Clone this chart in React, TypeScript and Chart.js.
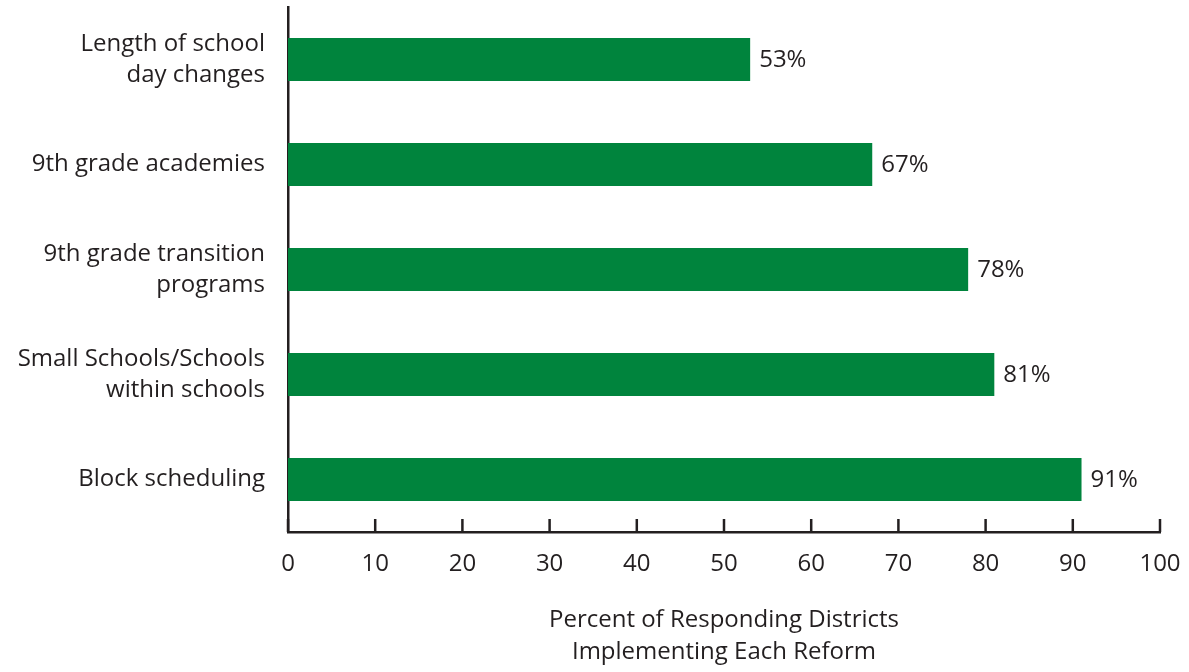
import React, { useEffect, useRef } from "react";
import { Chart, registerables } from "chart.js";

Chart.register(...registerables);

const categories: (string | string[])[] = [
  ["Length of school", "day changes"],
  "9th grade academies",
  ["9th grade transition", "programs"],
  ["Small Schools/Schools", "within schools"],
  "Block scheduling",
];
const values: number[] = [53, 67, 78, 81, 91];
const xTicks: number[] = [0, 10, 20, 30, 40, 50, 60, 70, 80, 90, 100];
const axisTitle: string[] = ["Percent of Responding Districts", "Implementing Each Reform"];

const GREEN = "#00843D";
const INK = "#231f20";
const FONT = "'Open Sans', 'Noto Sans', sans-serif";
const FS = 24;

export default function App() {
  const ref = useRef<HTMLCanvasElement | null>(null);

  useEffect(() => {
    document.body.style.margin = "0";
    const canvas = ref.current;
    if (!canvas) return;

    const overlay = {
      id: "overlay",
      afterDraw(chart: any) {
        const ctx = chart.ctx;
        const xs = chart.scales.x;
        const ys = chart.scales.y;
        const area = chart.chartArea;
        ctx.save();
        ctx.strokeStyle = INK;
        ctx.lineWidth = 2.5;
        xTicks.forEach((v) => {
          const px = xs.getPixelForValue(v);
          ctx.beginPath();
          ctx.moveTo(px, area.bottom);
          ctx.lineTo(px, area.bottom - 13);
          ctx.stroke();
        });
        ctx.fillStyle = INK;
        ctx.font = `${FS}px ${FONT}`;
        ctx.textAlign = "left";
        ctx.textBaseline = "middle";
        values.forEach((v, i) => {
          const px = xs.getPixelForValue(v);
          const py = ys.getPixelForValue(i);
          ctx.fillText(`${v}%`, px + 9, py + 1);
        });
        ctx.textAlign = "center";
        const cx = (area.left + area.right) / 2;
        axisTitle.forEach((t, i) => {
          ctx.fillText(t, cx, 620 + i * 32);
        });
        ctx.restore();
      },
    };

    const chart = new Chart(canvas, {
      type: "bar",
      data: {
        labels: categories,
        datasets: [
          {
            data: values,
            backgroundColor: GREEN,
            borderWidth: 0,
            barPercentage: 0.41,
            categoryPercentage: 1,
          },
        ],
      },
      options: {
        indexAxis: "y",
        responsive: false,
        animation: false,
        maintainAspectRatio: false,
        layout: { padding: { top: 7, right: 29, bottom: 0, left: 0 } },
        plugins: {
          legend: { display: false },
          tooltip: { enabled: false },
          title: { display: false },
        },
        scales: {
          x: {
            min: 0,
            max: 100,
            afterFit: (s: any) => {
              s.height = 140;
              s.paddingLeft = 0;
              s.paddingRight = 0;
            },
            grid: { display: false, drawTicks: false },
            border: { display: true, color: INK, width: 2.5 },
            ticks: {
              stepSize: 10,
              padding: 18,
              color: INK,
              font: { family: FONT, size: FS },
              maxRotation: 0,
            },
          },
          y: {
            afterFit: (s: any) => {
              s.width = 288;
              s.paddingTop = 0;
              s.paddingBottom = 0;
            },
            grid: { display: false, drawTicks: false },
            border: { display: true, color: INK, width: 2.5 },
            ticks: {
              padding: 23,
              color: INK,
              font: { family: FONT, size: FS, lineHeight: 1.3 },
            },
          },
        },
      },
      plugins: [overlay],
    });

    return () => chart.destroy();
  }, []);

  return (
    <div style={{ width: 1189, height: 672, position: "relative" }}>
      <canvas ref={ref} width={1189} height={672} style={{ display: "block" }} />
    </div>
  );
}
